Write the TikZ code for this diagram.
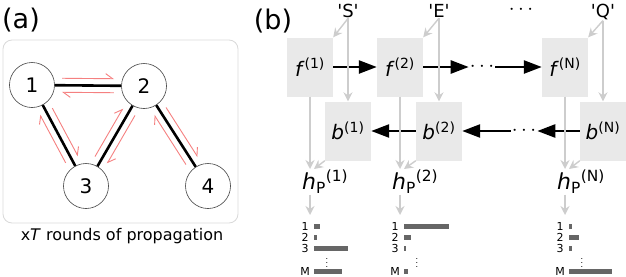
\documentclass[tikz,border=0pt]{standalone}
\usepackage{fontspec}
\setmainfont{DejaVu Sans}
\usetikzlibrary{arrows.meta,positioning,calc}
\definecolor{propred}{RGB}{245,128,128}
\definecolor{cellgray}{RGB}{233,233,233}
\definecolor{feedgray}{RGB}{205,205,205}
\definecolor{bargray}{RGB}{102,102,102}
\tikzset{
  tag/.style={anchor=base, inner sep=0pt, font=\fontsize{27}{27}\selectfont},
  frame/.style={draw=black!15, line width=0.8pt, rounded corners=9pt},
  res/.style={draw=black!75, circle, fill=white, minimum size=45pt, inner sep=0pt,
              line width=0.6pt, font=\fontsize{20}{20}\selectfont},
  contact/.style={line width=2.6pt},
  prop/.style={propred, line width=0.9pt, -{Straight Barb[harpoon, length=7pt, width=10pt]}},
  caption/.style={anchor=base, inner sep=0pt, font=\fontsize{16}{16}\selectfont},
  aa/.style={anchor=base, inner sep=1pt, font=\fontsize{18}{18}\selectfont},
  cell/.style={fill=cellgray, minimum width=46pt, minimum height=59pt, inner sep=0pt,
               font=\fontsize{20}{20}\selectfont},
  dots/.style={inner sep=1pt, font=\fontsize{20}{20}\selectfont},
  chain/.style={line width=2.5pt, -{Triangle[length=18pt, width=13pt]}},
  feed/.style={feedgray, line width=1.4pt, -{Stealth[length=9pt, width=9pt, inset=3pt]}},
  hlab/.style={anchor=north west, inner sep=1pt, font=\fontsize{22}{22}\selectfont},
  tick/.style={inner sep=0pt, font=\fontsize{11}{11}\selectfont},
  bar/.style={fill=bargray}
}
% two opposite messages along one contact
\newcommand{\exchange}[2]{%
  \draw[prop] ($(#1)!30pt!(#2)!7pt!90:(#2)$) -- ($(#2)!30pt!(#1)!7pt!-90:(#1)$);
  \draw[prop] ($(#2)!30pt!(#1)!7pt!90:(#1)$) -- ($(#1)!30pt!(#2)!7pt!-90:(#2)$);
}
% per-position score bars
\newcommand{\scorebars}[6]{%
  \begin{scope}[shift={(#2)}]
    \coordinate (#1) at (5,-11);
    \foreach \lab/\row/\len in {1/0/#3, 2/11/#4, 3/22/#5, M/45/#6} {
      \node[tick] (#1-\lab) at (0,\row) {\lab};
      \fill[bar] (9,\row-2.5) rectangle ++(\len,5);
    }
    \node[tick, font=\fontsize{8}{8}\selectfont] (#1-dots) at (22,34) {$\vdots$};
  \end{scope}}
\newcommand{\tq}{\textquotesingle}

\begin{document}
\begin{tikzpicture}[x=1pt,y=-1pt]
\useasboundingbox (0,0) rectangle (626,276);

% (a) propagation over the contact graph
\node[tag] (la) at (21,28) {(a)};
\draw[frame] (3,40) rectangle (238,223);
\node[res] (r1) at (32,85) {1};
\node[res] (r2) at (144,86) {2};
\node[res] (r3) at (86,186) {3};
\node[res] (r4) at (208,186) {4};
\draw[contact] (r1) -- (r2);
\draw[contact] (r1) -- (r3);
\draw[contact] (r3) -- (r2);
\draw[contact] (r2) -- (r4);
\exchange{r1}{r2}
\exchange{r1}{r3}
\exchange{r3}{r2}
\exchange{r2}{r4}
\node[caption] (cap) at (122,240) {x\textit{T} rounds of propagation};

% (b) forward / backward passes
\node[tag] (lb) at (273,29) {(b)};
\node[aa] (aS) at (348,17) {\tq S\tq};
\node[aa] (aE) at (439,17) {\tq E\tq};
\node[dots] (adots) at (521,10) {$\cdots$};
\node[aa] (aQ) at (603,17) {\tq Q\tq};

\node[cell] (f1) at (310,67) {\textit{f}\textsuperscript{(1)}};
\node[cell] (f2) at (400,67) {\textit{f}\textsuperscript{(2)}};
\node[dots] (fdots) at (482,67) {$\cdots$};
\node[cell] (fN) at (565,67) {\textit{f}\textsuperscript{(N)}};
\node[cell] (b1) at (348,131) {\textit{b}\textsuperscript{(1)}};
\node[cell] (b2) at (439,131) {\textit{b}\textsuperscript{(2)}};
\node[dots] (bdots) at (524,131) {$\cdots$};
\node[cell] (bN) at (603,131) {\textit{b}\textsuperscript{(N)}};

\draw[chain] (f1) -- (f2);
\draw[chain] (f2) -- (fdots);
\draw[chain] (fdots) -- (fN);
\draw[chain] (bN) -- (bdots);
\draw[chain] (bdots) -- (b2);
\draw[chain] (b2) -- (b1);

\draw[feed] (aS.south) -- (b1.north);
\draw[feed] (aS.south) -- (f1.north east);
\draw[feed] (aE.south) -- (b2.north);
\draw[feed] (aE.south) -- (f2.north east);
\draw[feed] (aQ.south) -- (bN.north);
\draw[feed] (aQ.south) -- (fN.north east);

\node[hlab] (h1) at (301,169) {\textit{h}\textsubscript{P}\textsuperscript{(1)}};
\node[hlab] (h2) at (391,169) {\textit{h}\textsubscript{P}\textsuperscript{(2)}};
\node[hlab] (hN) at (556,169) {\textit{h}\textsubscript{P}\textsuperscript{(N)}};

\draw[feed] (f1) -- (f1 |- h1.north);
\draw[feed] (b1.south west) -- ($(f1 |- h1.north)+(4,0)$);
\draw[feed] (f2) -- (f2 |- h2.north);
\draw[feed] (b2.south west) -- ($(f2 |- h2.north)+(4,0)$);
\draw[feed] (fN) -- (fN |- hN.north);
\draw[feed] (bN.south west) -- ($(fN |- hN.north)+(4,0)$);

\scorebars{s1}{305,226}{6}{3}{34}{28}
\scorebars{s2}{395,226}{45}{7}{2}{4}
\scorebars{sN}{560,226}{3}{10}{3}{43}
\draw[feed] (f1 |- h1.south) -- (s1);
\draw[feed] (f2 |- h2.south) -- (s2);
\draw[feed] (fN |- hN.south) -- (sN);
\end{tikzpicture}
\end{document}
